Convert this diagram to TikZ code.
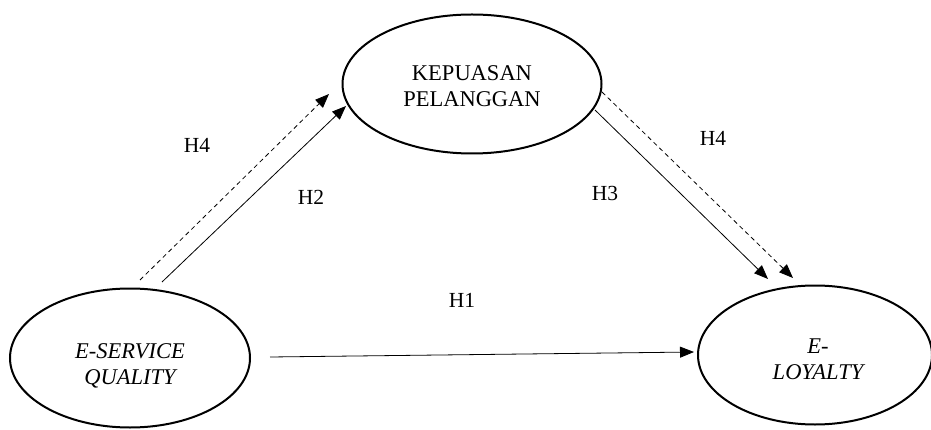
\documentclass[tikz,border=0pt]{standalone}
\usepackage{fontspec}
\setmainfont{Liberation Serif}
\usetikzlibrary{shapes.geometric,arrows.meta}
\tikzset{
  construct/.style={ellipse, draw, line width=2pt, inner sep=0pt},
  ctext/.style={align=center, inner sep=0pt, font=\fontsize{22.5}{26}\selectfont},
  path/.style={line width=0.8pt, -{Triangle[length=14pt,width=11pt]}},
  mediated/.style={path, dash pattern=on 4.5pt off 3.5pt},
  hyp/.style={font=\fontsize{21.5}{25}\selectfont},
}
\begin{document}
\begin{tikzpicture}[x=1pt,y=-1pt]
\useasboundingbox (0,0) rectangle (931,430);

% latent constructs
\node[construct, minimum width=240pt, minimum height=139pt] (esq) at (130,358) {};
\node[construct, minimum width=259pt, minimum height=139pt] (kp) at (472,84) {};
\node[construct, minimum width=234pt, minimum height=139pt] (el) at (815,355) {};

% construct names
\node[ctext] (esqname) at (130,366) {\itshape E-SERVICE\\\itshape QUALITY};
\node[ctext] (kpname) at (472,86) {KEPUASAN\\PELANGGAN};
\node[ctext] (elname) at (818,359) {\itshape E-\\\itshape LOYALTY};

% arrow end points next to the ellipses
\coordinate (h1s) at (270,357);
\coordinate (h1e) at (694,352);
\coordinate (h2s) at (162,282);
\coordinate (h2e) at (346,106);
\coordinate (h4as) at (140,280);
\coordinate (h4ae) at (329,94);
\coordinate (h3s) at (595,110);
\coordinate (h3e) at (768,279);
\coordinate (h4bs) at (602,92);
\coordinate (h4be) at (793,278);

% direct effects
\draw[path] (h1s) -- (h1e);
\draw[path] (h2s) -- (h2e);
\draw[path] (h3s) -- (h3e);
% mediated effect
\draw[mediated] (h4as) -- (h4ae);
\draw[mediated] (h4bs) -- (h4be);

% hypothesis labels
\node[hyp] (l4a) at (197,145) {H4};
\node[hyp] (l2) at (311,197) {H2};
\node[hyp] (l4b) at (713,138) {H4};
\node[hyp] (l3) at (605,193) {H3};
\node[hyp] (l1) at (462,300) {H1};
\end{tikzpicture}
\end{document}
